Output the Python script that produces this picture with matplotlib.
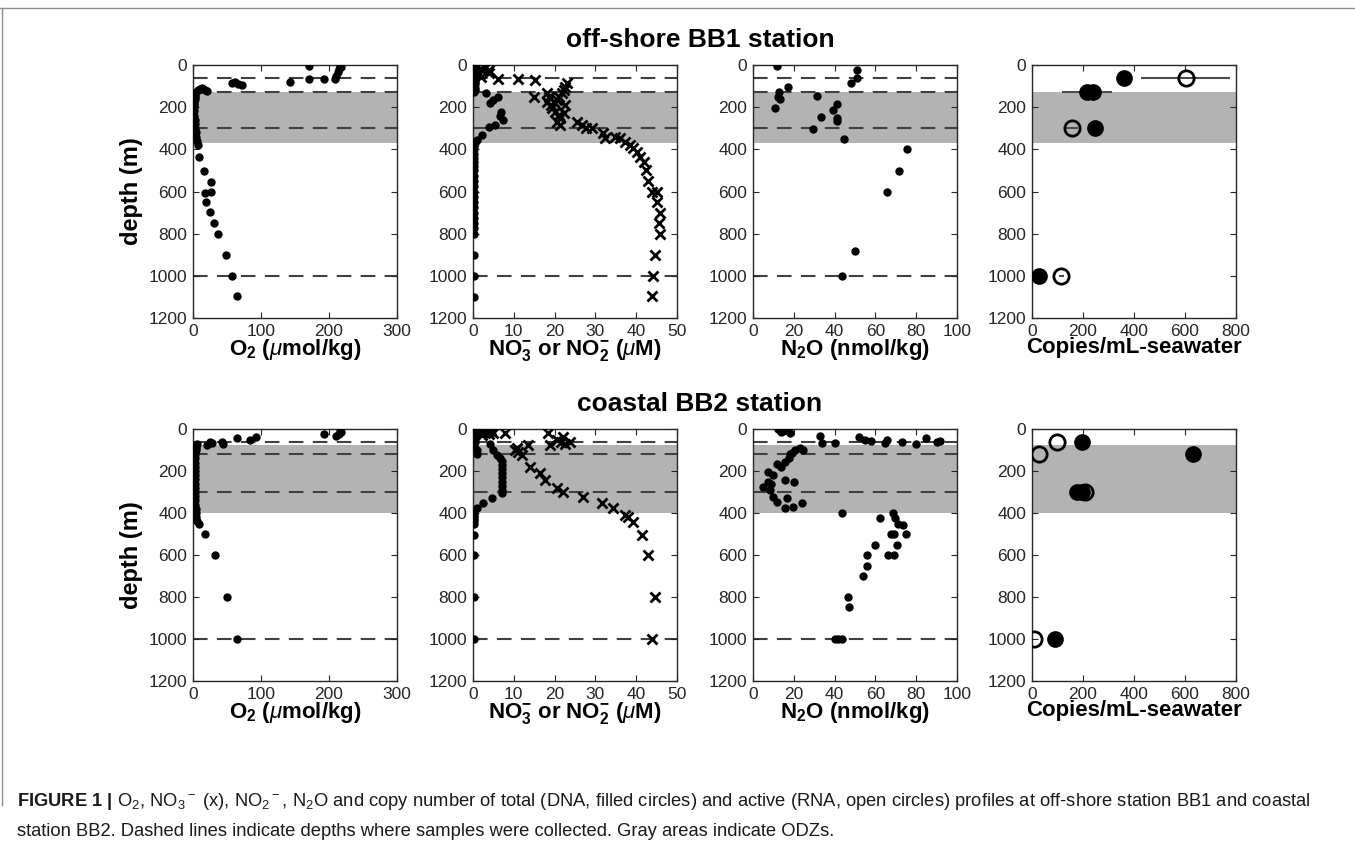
import numpy as np
import matplotlib.pyplot as plt
from matplotlib.lines import Line2D

plt.rcParams['font.family'] = ['Liberation Sans', 'DejaVu Sans']
plt.rcParams['mathtext.fontset'] = 'custom'
plt.rcParams['mathtext.rm'] = 'Liberation Sans'
plt.rcParams['mathtext.it'] = 'Liberation Sans:italic'
plt.rcParams['mathtext.bf'] = 'Liberation Sans:bold'

# ---------------- BB1 (off-shore) ----------------
bb1_o2 = [170, 170, 143, 192, 209, 211, 213, 215, 217, 216,
          57, 62, 66, 72,
          13, 20, 18, 15, 10, 8,
          4, 3, 3, 3, 2, 2, 2, 2, 2, 2, 3, 3, 3, 4, 5, 6, 7,
          9, 16, 27, 18, 27, 19, 25, 31, 37, 48, 57, 64]
bb1_o2_depth = [3, 66, 79, 66, 66, 50, 35, 20, 10, 3,
                85, 80, 90, 95,
                109, 125, 120, 115, 112, 118,
                130, 140, 150, 160, 170, 180, 190, 200, 220, 240, 260, 280, 300, 320, 340, 360, 380,
                435, 502, 553, 605, 600, 648, 698, 751, 800, 901, 1000, 1095]

bb1_no3 = [1, 2, 3, 4, 2, 1.5, 4, 6.2, 11.1, 15.2, 15.0,
           23.0, 22.6, 22.2, 21.8, 21.0, 20.6, 19.8, 19.0, 18.2, 18.6, 19.4, 20.2,
           21.0, 21.4, 20.6, 21.4, 22.2, 22.6, 18.2,
           25.4, 26.6, 27.8, 29.1, 31.9, 32.3, 34.8, 36.0, 37.3, 38.5, 39.3, 40.1,
           41.0, 41.8, 42.5, 42.8, 43.8, 45.0, 45.0, 45.8, 45.5, 45.8, 44.6, 44.2, 43.8]
bb1_no3_depth = [5, 20, 15, 40, 55, 45, 25, 66, 66, 71, 150,
                 87, 103, 118, 134, 150, 166, 174, 190, 174, 150, 205, 221,
                 237, 253, 269, 284, 229, 190, 134,
                 269, 284, 300, 300, 324, 348, 340, 348, 363, 379, 395, 411,
                 434, 458, 498, 550, 600, 600, 648, 703, 750, 800, 900, 1000, 1095]

bb1_no2 = [0.3, 0.5, 1.0, 0.4, 0.3, 0.5, 0.8, 0.3, 0.4, 0.6, 0.3, 0.5, 0.4, 0.3,
           3.3, 6.2, 5.0, 4.2, 6.9, 7.4, 6.5, 5.4, 4.0, 2.1, 0.9,
           0.5, 0.3, 0.3, 0.3, 0.3, 0.3, 0.3, 0.3, 0.3, 0.3, 0.3, 0.3, 0.3, 0.3,
           0.3, 0.3, 0.3, 0.3, 0.3, 0.3, 0.3, 0.3, 0.3]
bb1_no2_depth = [0, 10, 20, 30, 40, 50, 60, 70, 80, 90, 100, 110, 120, 130,
                 135, 150, 165, 180, 221, 261, 240, 284, 292, 332, 355,
                 370, 385, 400, 420, 440, 460, 480, 500, 525, 550, 575, 600, 625, 650,
                 675, 700, 725, 750, 775, 800, 900, 1000, 1100]

bb1_n2o = [11.6, 17.3, 12.6, 12.2, 13.0, 10.8, 31.2, 33.2, 29.6, 39.4, 41.3, 41.2, 41.0,
           44.6, 47.9, 50.8, 50.8, 75.3, 71.7, 65.5, 50.0, 43.5]
bb1_n2o_depth = [5, 103, 126, 150, 163, 202, 145, 245, 303, 213, 185, 253, 265,
                 352, 84, 63, 24, 400, 502, 600, 880, 1000]

bb1_dna = [362, 215, 240, 247, 29]
bb1_dna_depth = [60, 130, 130, 300, 1000]
bb1_dna_err = [0, 98, 0, 0, 0]
bb1_rna = [602, 156, 114]
bb1_rna_depth = [60, 300, 1000]
bb1_rna_err = [175, 25, 10]

bb1_odz = (130, 370)
bb1_samples = [60, 130, 300, 1000]

# ---------------- BB2 (coastal) ----------------
bb2_o2 = [20, 25, 28, 43, 44, 65, 84, 93, 192, 211, 214, 218, 216,
          6, 5, 4, 4, 3, 3, 3, 3, 3, 3, 3, 3, 3, 3, 3, 3, 3, 3, 4, 4, 5, 6,
          9, 17, 32, 50, 64]
bb2_o2_depth = [76, 60, 68, 60, 70, 41, 52, 37, 25, 35, 25, 15, 10,
                70, 80, 90, 100, 110, 120, 140, 160, 180, 200, 220, 240, 260, 280,
                300, 320, 340, 360, 380, 400, 420, 440,
                452, 501, 600, 801, 1000]

bb2_no3 = [1.7, 2.5, 3.2, 4.0, 4.9, 3.8, 2.2, 4.5, 7.8,
           18.5, 18.9, 20.5, 21.5, 22.6, 23.8, 22.0,
           10.7, 11.1, 12.0, 13.5, 10.3, 14.0, 16.4, 17.6, 20.5, 22.0,
           27.0, 31.5, 34.4, 37.2, 38.0, 39.3, 41.3, 43.0, 44.6, 43.8]
bb2_no3_depth = [5, 15, 0, 10, 20, 25, 30, 5, 17,
                 20, 75, 50, 60, 70, 60, 40,
                 90, 108, 124, 76, 100, 179, 211, 243, 282, 298,
                 322, 354, 378, 409, 420, 445, 505, 600, 801, 1000]

bb2_no2 = [0.3, 0.6, 1.0, 0.4, 0.8, 0.3, 0.5, 0.3, 0.9, 1.0,
           4.2, 5.0, 5.8, 6.5, 7.0, 7.0, 7.0, 7.0, 7.0, 7.0, 7.0, 7.0, 7.0,
           4.6, 2.5, 0.9,
           0.3, 0.3, 0.3, 0.3, 0.3, 0.3, 0.3, 0.3, 0.3, 0.3]
bb2_no2_depth = [0, 10, 20, 30, 40, 50, 60, 80, 100, 120,
                 70, 100, 125, 140, 150, 170, 190, 210, 230, 250, 270, 290, 305,
                 330, 353, 378,
                 400, 410, 420, 430, 440, 450, 505, 600, 801, 1000]

bb2_n2o = [12.3, 14.5, 16.0, 18.1, 13.5, 17.0,
           32.8, 33.6, 40.0, 52.0, 55.0, 58.0, 64.7, 65.5, 72.9, 80.0, 85.0, 90.0, 91.6,
           23.0, 20.7, 17.6, 15.6, 13.9, 7.5, 10.0, 7.3, 5.1, 8.4, 10.0, 11.8, 15.7,
           19.8, 23.9, 16.5, 15.6, 20.2, 19.0, 24.5, 12.0, 9.0, 18.0,
           43.5, 62.2, 68.7, 69.5, 71.0, 73.5, 75.0, 67.5, 69.2, 70.4, 59.8,
           66.0, 69.0, 55.7, 55.7, 54.0, 46.7, 47.0, 40.0, 41.5, 43.5]
bb2_n2o_depth = [0, 10, 5, 20, 15, 0,
                 33, 68, 68, 40, 50, 55, 68, 50, 60, 70, 45, 60, 55,
                 92, 100, 140, 155, 180, 203, 219, 250, 274, 290, 322, 346, 378,
                 373, 354, 330, 243, 250, 116, 100, 165, 260, 120,
                 401, 425, 401, 425, 450, 458, 500, 500, 500, 552, 552,
                 600, 600, 600, 651, 700, 798, 849, 1000, 1000, 1000]

bb2_dna = [195, 632, 175, 195, 90]
bb2_dna_depth = [60, 120, 300, 300, 1000]
bb2_rna = [29, 97, 208, 9]
bb2_rna_depth = [120, 60, 300, 1000]

bb2_odz = (75, 400)
bb2_samples = [60, 120, 300, 1000]

titles = ['off-shore BB1 station', 'coastal BB2 station']
xlabels = [r'O$_\mathbf{2}$ ($\mu$mol/kg)',
           r'NO$_\mathbf{3}^\mathbf{-}$ or NO$_\mathbf{2}^\mathbf{-}$ ($\mu$M)',
           r'N$_\mathbf{2}$O (nmol/kg)',
           'Copies/mL-seawater']
xlims = [(0, 300), (0, 50), (0, 100), (0, 800)]
xtick_steps = [100, 10, 20, 200]

W, H = 1355, 843
fig = plt.figure(figsize=(W / 100, H / 100), dpi=100)

lefts = [193, 473, 753, 1032]
pw = 204
rows = [(65, 318), (429, 681)]

DASH = dict(color='0.25', lw=1.5, ls=(0, (7, 4.5)), zorder=1)
DOT = dict(ls='none', marker='o', ms=5, color='k', zorder=3)
CROSS = dict(ls='none', marker='x', ms=7, mew=2, color='k', zorder=3)


def setup(ax, i):
    ax.set_xlim(*xlims[i])
    ax.set_ylim(1200, 0)
    ax.set_xticks(np.arange(xlims[i][0], xlims[i][1] + 1, xtick_steps[i]))
    ax.set_yticks(np.arange(0, 1201, 200))
    ax.tick_params(direction='in', top=True, right=True, length=4,
                   labelsize=12.5, colors='0.15', labelcolor='0.15', pad=4)
    for s in ax.spines.values():
        s.set_color('0.15')
        s.set_linewidth(1.0)
    ax.set_xlabel(xlabels[i], fontsize=16, fontweight='bold', labelpad=-1)
    if i == 0:
        ax.set_ylabel('depth (m)', fontsize=17, fontweight='bold', labelpad=4)


station_data = [
    dict(o2=(bb1_o2, bb1_o2_depth), no3=(bb1_no3, bb1_no3_depth), no2=(bb1_no2, bb1_no2_depth),
         n2o=(bb1_n2o, bb1_n2o_depth), odz=bb1_odz, samples=bb1_samples),
    dict(o2=(bb2_o2, bb2_o2_depth), no3=(bb2_no3, bb2_no3_depth), no2=(bb2_no2, bb2_no2_depth),
         n2o=(bb2_n2o, bb2_n2o_depth), odz=bb2_odz, samples=bb2_samples),
]

for r, (top, bot) in enumerate(rows):
    d = station_data[r]
    axes = []
    for i, lx in enumerate(lefts):
        ax = fig.add_axes([lx / W, 1 - bot / H, pw / W, (bot - top) / H])
        ax.axhspan(*d['odz'], color='0.7', lw=0, zorder=0)
        if i < 3:
            for dep in d['samples']:
                ax.axhline(dep, **DASH)
        axes.append(ax)
    axes[0].plot(*d['o2'], **DOT)
    axes[1].plot(*d['no2'], **DOT)
    axes[1].plot(*d['no3'], **CROSS)
    axes[2].plot(*d['n2o'], **DOT)
    ax4 = axes[3]
    if r == 0:
        ax4.errorbar(bb1_dna, bb1_dna_depth, xerr=bb1_dna_err, fmt='o', ms=11, color='k',
                     ecolor='0.3', elinewidth=1.5, capsize=0, zorder=3)
        ax4.errorbar(bb1_rna, bb1_rna_depth, xerr=bb1_rna_err, fmt='o', ms=11, mfc='none',
                     mec='k', mew=2, ecolor='0.3', elinewidth=1.5, capsize=0, zorder=3)
    else:
        ax4.plot(bb2_dna, bb2_dna_depth, 'o', ms=11, color='k', zorder=3)
        ax4.plot(bb2_rna, bb2_rna_depth, 'o', ms=11, mfc='none', mec='k', mew=2, zorder=3)
    for i, ax in enumerate(axes):
        setup(ax, i)
    fig.text(700 / W, 1 - (top - 25) / H, titles[r], fontsize=19, fontweight='bold',
             ha='center', va='center', color='k')

# outer frame
fig.add_artist(Line2D([0, 1], [1 - 8 / H, 1 - 8 / H], color='0.55', lw=1))
fig.add_artist(Line2D([1.5 / W, 1.5 / W], [1 - 8 / H, 1 - 805 / H], color='0.55', lw=1))

cap1 = (r'$\mathbf{FIGURE\ 1\ |}$ O$_2$, NO$_3$$^-$ (x), NO$_2$$^-$, N$_2$O and copy number of total '
        '(DNA, filled circles) and active (RNA, open circles) profiles at off-shore station BB1 and coastal')
cap2 = 'station BB2. Dashed lines indicate depths where samples were collected. Gray areas indicate ODZs.'
fig.text(17 / W, 1 - 801 / H, cap1, fontsize=13.2, ha='left', va='center', color='0.1')
fig.text(17 / W, 1 - 832 / H, cap2, fontsize=13.2, ha='left', va='center', color='0.1')

fig.savefig('out.png', dpi=100)
